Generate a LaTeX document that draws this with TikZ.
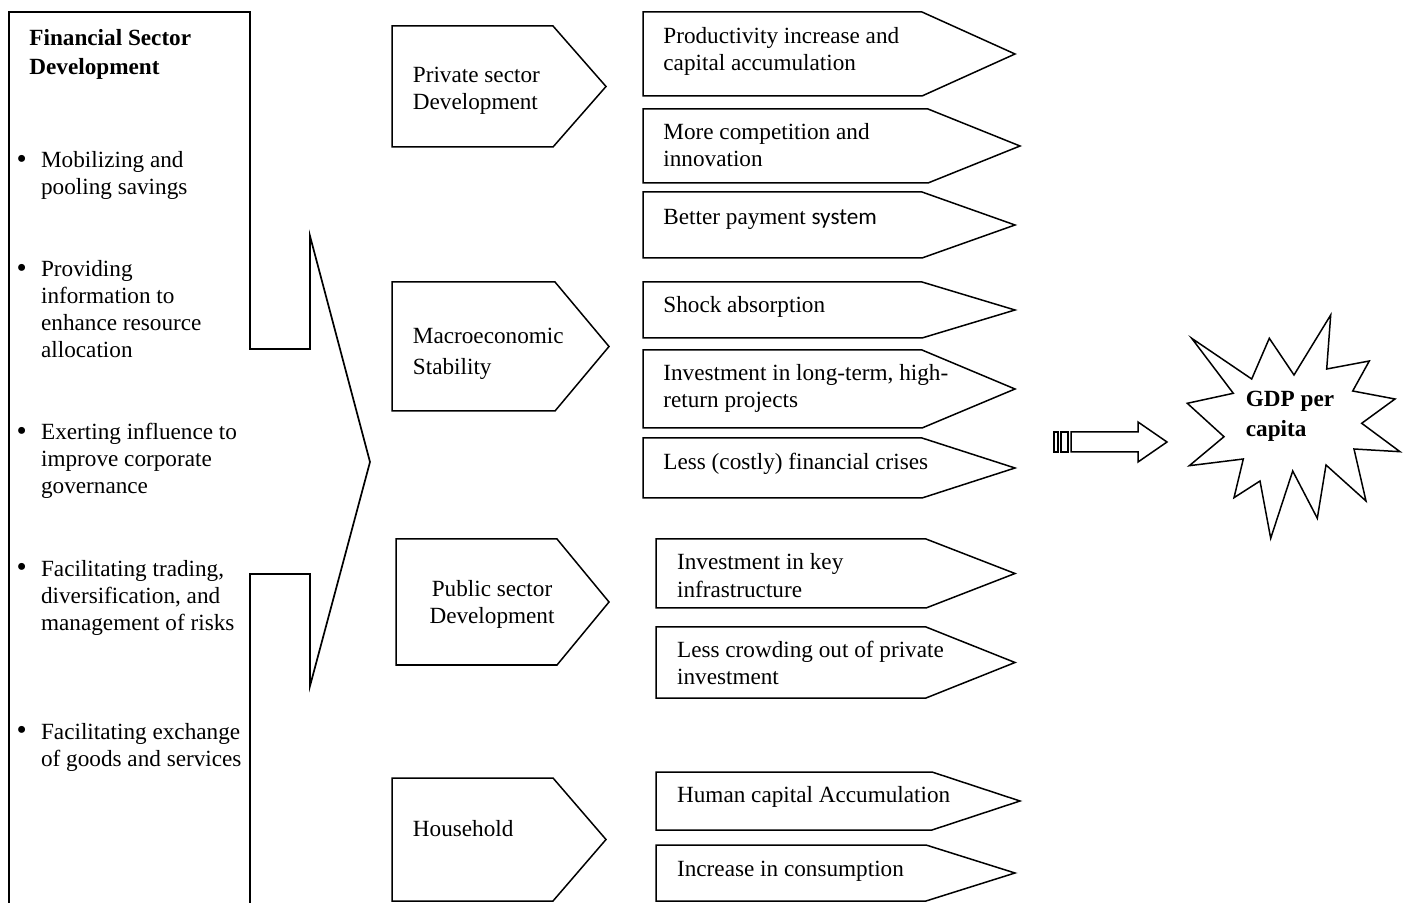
\documentclass[tikz,border=0pt]{standalone}
\usepackage{fontspec}
\setmainfont{Liberation Serif}
\newfontfamily\altsans{Carlito}
% pentagon tag: left x, top y, end of straight part, tip x, bottom y
\newcommand\tagshape[5]{%
  \draw[outline] (#1,#2) -- (#3,#2) -- (#4,{(#2+#5)/2}) -- (#3,#5) -- (#1,#5) -- cycle;}
\begin{document}
\begin{tikzpicture}[x=0.5pt,y=-0.5pt,line join=miter,
  outline/.style={draw=black,line width=0.75pt},
  frame/.style={draw=black,line width=0.85pt},
  % text nodes are placed by the baseline of their last line
  txt/.style={inner sep=0pt,anchor=base west,align=left,font=\fontsize{11.6}{13.5}\selectfont},
  ctxt/.style={txt,anchor=base,align=center},
  btxt/.style={txt,font=\fontsize{11.6}{13.5}\selectfont\bfseries},
  bul/.style={inner sep=0pt,anchor=center,font=\fontsize{14.5}{14.5}\selectfont}]

\useasboundingbox (0,0) rectangle (1404,903);

% ---- financial sector column with its funnel ----
\draw[frame] (9,910) -- (9,12) -- (250,12) -- (250,349) -- (310,349) -- (310,236)
  -- (370,462) -- (310,686) -- (310,574) -- (250,574) -- (250,910);

\node[btxt] (fsd) at (29,75) {Financial Sector\\[1pt]Development};

\node[bul] (d1) at (21.7,161.7) {\textbullet};
\node[txt] (f1) at (40.7,195) {Mobilizing and\\pooling savings};
\node[bul] (d2) at (21.7,271.4) {\textbullet};
\node[txt] (f2) at (40.7,358) {Providing\\information to\\enhance resource\\allocation};
\node[bul] (d3) at (21.7,433.7) {\textbullet};
\node[txt] (f3) at (40.7,494) {Exerting influence to\\improve corporate\\governance};
\node[bul] (d4) at (21.7,569.7) {\textbullet};
\node[txt] (f4) at (40.7,630.7) {Facilitating trading,\\diversification, and\\management of risks};
\node[bul] (d5) at (21.7,732.7) {\textbullet};
\node[txt] (f5) at (40.7,766.7) {Facilitating exchange\\of goods and services};

% ---- channels ----
\tagshape{392}{26}{553}{606}{147}
\node[txt] (priv) at (412.5,110) {Private sector\\Development};
\tagshape{392}{282}{555}{609}{411}
\node[txt] (macro) at (412.5,375) {Macroeconomic\\[2pt]Stability};
\tagshape{396}{539}{557}{609}{665}
\node[ctxt] (pub) at (492,624) {Public sector\\Development};
\tagshape{392}{778}{553}{606}{901}
\node[txt] (hh) at (412.5,836) {Household};

% ---- effects ----
\tagshape{643}{12}{922}{1015}{96}
\node[txt] (e1) at (663,71) {Productivity increase and\\capital accumulation};
\tagshape{643}{109}{928}{1020}{183}
\node[txt] (e2) at (663,167) {More competition and\\innovation};
\tagshape{643}{192}{922}{1015}{258}
\node[txt] (e3) at (663,225) {Better payment {\altsans system}};
\tagshape{643}{282}{922}{1015}{338}
\node[txt] (e4) at (663,313) {Shock absorption};
\tagshape{643}{350}{922}{1015}{428}
\node[txt] (e5) at (663,408) {Investment in long-term, high-\\return projects};
\tagshape{643}{438}{922}{1015}{498}
\node[txt] (e6) at (663,470) {Less (costly) financial crises};
\tagshape{656}{539}{926}{1015}{608}
\node[txt] (e7) at (676.7,597) {Investment in key\\infrastructure};
\tagshape{656}{627}{926}{1015}{698}
\node[txt] (e8) at (676.7,684) {Less crowding out of private\\investment};
\tagshape{656}{772}{932}{1020}{830}
\node[txt] (e9) at (676.7,802.7) {Human capital Accumulation};
\tagshape{656}{845}{926}{1015}{901}
\node[txt] (e10) at (676.7,876) {Increase in consumption};

% ---- block arrow towards the outcome ----
\draw[outline] (1054,432) rectangle (1058,452);
\draw[outline] (1061,432) rectangle (1068,452);
\draw[outline] (1071,432) -- (1138,432) -- (1138,422) -- (1167,442) -- (1138,462)
  -- (1138,452) -- (1071,452) -- cycle;

% ---- outcome burst ----
\draw[outline] (1191.7,338.3) -- (1251.7,379) -- (1269.3,338.3) -- (1294,375)
  -- (1330.7,315) -- (1326.7,369) -- (1369.3,361) -- (1352.7,391)
  -- (1395,399) -- (1361.7,423.3) -- (1400,451.7) -- (1354,449)
  -- (1366,501) -- (1326,465) -- (1317.3,518.3) -- (1292.7,471)
  -- (1270.7,538.3) -- (1260,481) -- (1234,497.7) -- (1243.3,459)
  -- (1189.3,465.7) -- (1224,436.7) -- (1187.3,403.3) -- (1233.3,393.3) -- cycle;
\node[btxt] (gdp) at (1245.5,436.7) {GDP per\\[1.5pt]capita};

\end{tikzpicture}
\end{document}
